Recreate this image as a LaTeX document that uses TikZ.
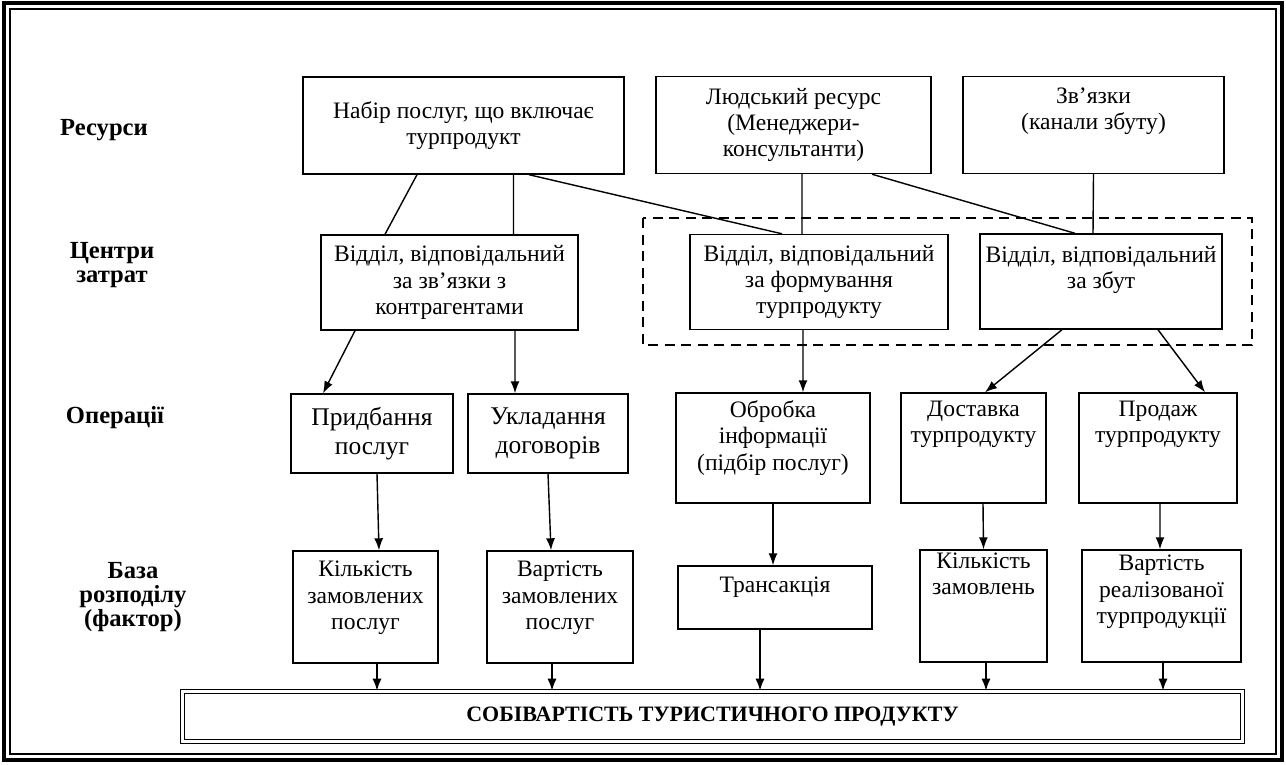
\documentclass[tikz,border=0pt]{standalone}
\usepackage{fontspec}
\setmainfont{Liberation Serif}[BoldFont={Liberation Serif Bold}]
\usetikzlibrary{arrows.meta,positioning}
\tikzset{%
  >={Latex[width=1.8mm,length=2.4mm]},
  % Styles of the boxes and labels
          base/.style = {rectangle, draw=black, line width=0.8pt,
                         align=center, inner xsep=2pt, inner ysep=1pt,
                         font=\fontsize{13.4}{15}\selectfont},
      resource/.style = {base, minimum height=19.4mm},
    costCentre/.style = {base, minimum height=19mm},
     operation/.style = {base, minimum height=22mm},
  bigOperation/.style = {base, minimum height=15.8mm,
                         font=\fontsize{14.5}{16.5}\selectfont},
        driver/.style = {base, minimum height=22.4mm},
     totalCost/.style = {base, double, double distance=1.2pt, line width=0.9pt,
                         minimum width=212mm, minimum height=10mm,
                         font=\bfseries\fontsize{12.5}{14}\selectfont},
      rowLabel/.style = {align=center, font=\bfseries\fontsize{14}{13.5}\selectfont},
       dashbox/.style = {draw=black, line width=1.2pt,
                         dash pattern=on 2mm off 1.3mm},
}

\begin{document}
\begin{tikzpicture}[x=0.2mm, y=-0.2mm]
  \useasboundingbox (0,0) rectangle (1286,764);
  % Frame
  \draw[line width=2.2pt] (4,3) rectangle (1282,760);
  \draw[line width=0.8pt] (10,9) rectangle (1276,754);
  % Row labels
  \node (resLabel)    [rowLabel] at (104,130) {Ресурси};
  \node (centreLabel) [rowLabel] at (112,265) {Центри\\затрат};
  \node (opLabel)     [rowLabel] at (115,418) {Операції};
  \node (driverLabel) [rowLabel] at (133,597) {База\\розподілу\\(фактор)};
  % Resources
  \node (serviceSet) [resource, minimum width=64.2mm] at (463.5,125.5)
                                  {Набір послуг, що включає\\турпродукт};
  \node (humanRes)   [resource, minimum width=55mm] at (793.5,125)
                                  {Людський ресурс\\(Менеджери-\\консультанти)};
  \node (links)      [resource, minimum width=52.2mm, text depth=6.6mm]
                                  at (1093.5,125) {Зв’язки\\(канали збуту)};
  % Cost centres
  \draw[dashbox] (643,218) rectangle (1252,345);
  \node (partnersDept) [costCentre, minimum width=51.4mm] at (449.5,282.5)
                       {Відділ, відповідальний\\за зв’язки з\\контрагентами};
  \node (formingDept)  [costCentre, minimum width=51.6mm] at (819,282)
                       {Відділ, відповідальний\\за формування\\турпродукту};
  \node (salesDept)    [costCentre, minimum width=48.4mm, text depth=5.6mm]
                       at (1101,281.5) {Відділ, відповідальний\\за збут};
  % Operations
  \node (buyServices) [bigOperation, minimum width=32.4mm] at (372,433.5)
                                                      {Придбання\\послуг};
  \node (contracts)   [bigOperation, minimum width=32mm] at (548,433.5)
                                                      {Укладання\\договорів};
  \node (infoProc)    [operation, minimum width=38.8mm, text depth=5mm]
                      at (773,448) {Обробка\\інформації\\(підбір послуг)};
  \node (delivery)    [operation, minimum width=29mm, text depth=10.6mm]
                      at (973.5,448) {Доставка\\турпродукту};
  \node (sale)        [operation, minimum width=31.6mm, text depth=10.6mm]
                      at (1158,448) {Продаж\\турпродукту};
  % Allocation bases
  \node (servicesQty)  [driver, minimum width=29mm, text depth=4.6mm]
                       at (365.5,607) {Кількість\\замовлених\\послуг};
  \node (servicesCost) [driver, minimum width=29.2mm, text depth=4.6mm]
                       at (560,607) {Вартість\\замовлених\\послуг};
  \node (transaction)  [base, minimum width=38.8mm, minimum height=12.6mm,
                        text depth=5mm] at (775,597.5) {Трансакція};
  \node (ordersQty)    [driver, minimum width=25.4mm, text depth=13mm]
                       at (983.5,606) {Кількість\\замовлень};
  \node (salesCost)    [driver, minimum width=31.8mm, text depth=6.6mm]
                       at (1161.5,606) {Вартість\\реалізованої\\турпродукції};
  \node (totalCost)    [totalCost] at (712.5,716.5)
                       {СОБІВАРТІСТЬ ТУРИСТИЧНОГО ПРОДУКТУ};
  % Lines from resources to cost centres
  \draw[line width=0.8pt] ([xshift=-9.3mm]serviceSet.south) -- ([xshift=-12.9mm]partnersDept.north);
  \draw[line width=0.8pt] ([xshift=10mm]serviceSet.south)   -- ([xshift=12.8mm]partnersDept.north);
  \draw[line width=0.8pt] ([xshift=13.1mm]serviceSet.south) -- ([xshift=-7.4mm]formingDept.north);
  \draw[line width=0.8pt] ([xshift=1.7mm]humanRes.south)    -- ([xshift=-3.4mm]formingDept.north);
  \draw[line width=0.8pt] ([xshift=15.7mm]humanRes.south)   -- ([xshift=-5.2mm]salesDept.north);
  \draw[line width=0.8pt] (links.south)                     -- ([xshift=-1.6mm]salesDept.north);
  % Arrows from cost centres to operations
  \draw[->, line width=0.8pt] ([xshift=-18.9mm]partnersDept.south) -- ([xshift=-9.8mm]buyServices.north);
  \draw[->, line width=0.8pt] ([xshift=13.1mm]partnersDept.south)  -- ([xshift=-6.6mm]contracts.north);
  \draw[->, line width=0.8pt] ([xshift=-3.2mm]formingDept.south)   -- ([xshift=6mm]infoProc.north);
  \draw[->, line width=0.8pt] ([xshift=-7.8mm]salesDept.south)     -- ([xshift=2.3mm]delivery.north);
  \draw[->, line width=0.8pt] ([xshift=11.4mm]salesDept.south)     -- ([xshift=9.4mm]sale.north);
  % Arrows from operations to allocation bases
  \draw[->, line width=0.8pt] ([xshift=1mm]buyServices.south)  -- ([xshift=2.7mm]servicesQty.north);
  \draw[->, line width=0.8pt] (contracts.south)                -- ([xshift=-1.8mm]servicesCost.north);
  \draw[->, line width=0.8pt] (infoProc.south)                 -- ([xshift=-0.4mm]transaction.north);
  \draw[->, line width=0.8pt] ([xshift=1.9mm]delivery.south)   -- (ordersQty.north);
  \draw[->, line width=0.8pt] ([xshift=0.4mm]sale.south)       -- ([xshift=-0.3mm]salesCost.north);
  % Arrows into the total cost
  \draw[->, line width=0.8pt] ([xshift=2.3mm]servicesQty.south)
                              -- ([xshift=2.3mm]servicesQty.south |- totalCost.north);
  \draw[->, line width=0.8pt] ([xshift=-1.6mm]servicesCost.south)
                              -- ([xshift=-1.6mm]servicesCost.south |- totalCost.north);
  \draw[->, line width=0.8pt] ([xshift=-3mm]transaction.south)
                              -- ([xshift=-3mm]transaction.south |- totalCost.north);
  \draw[->, line width=0.8pt] ([xshift=0.5mm]ordersQty.south)
                              -- ([xshift=0.5mm]ordersQty.south |- totalCost.north);
  \draw[->, line width=0.8pt] ([xshift=0.3mm]salesCost.south)
                              -- ([xshift=0.3mm]salesCost.south |- totalCost.north);
\end{tikzpicture}
\end{document}
